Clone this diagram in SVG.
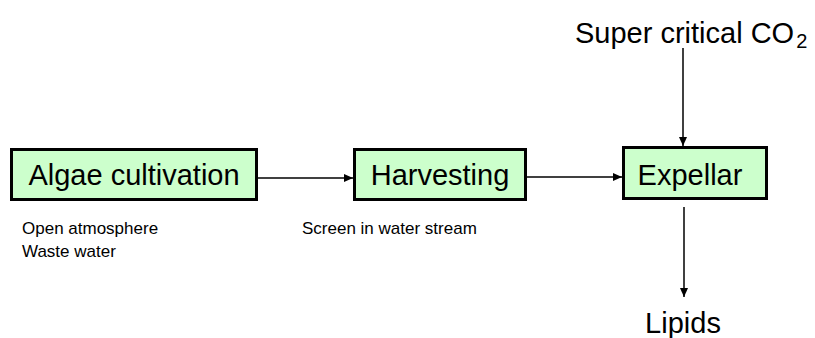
<svg xmlns="http://www.w3.org/2000/svg" width="815" height="338" viewBox="0 0 815 338">
<defs>
<marker id="ah" markerWidth="10" markerHeight="10" refX="9" refY="5" orient="auto" markerUnits="userSpaceOnUse">
<path d="M0,1 L9,5 L0,9 Z" fill="#000"/>
</marker>
<style>
.box{fill:#ccffcc;stroke:#000;stroke-width:3}
.big{font-family:"Liberation Sans",Arial,sans-serif;font-size:29px;fill:#000}
.small{font-family:"Liberation Sans",Arial,sans-serif;font-size:17px;fill:#000}
.conn{stroke:#000;stroke-width:1.5;fill:none;marker-end:url(#ah)}
</style>
</defs>
<rect width="815" height="338" fill="#fff"/>
<g id="algae">
<rect class="box" x="11.5" y="149.5" width="245" height="50"/>
<text class="big" x="134" y="185" text-anchor="middle">Algae cultivation</text>
</g>
<g id="harvesting">
<rect class="box" x="354.5" y="149.5" width="171" height="50"/>
<text class="big" x="440" y="185" text-anchor="middle">Harvesting</text>
</g>
<g id="expellar">
<rect class="box" x="623.5" y="147.5" width="143" height="51"/>
<text class="big" x="690" y="185" text-anchor="middle">Expellar</text>
</g>
<g id="co2">
<text class="big" x="575" y="43">Super critical CO<tspan font-size="20" dx="2" dy="5">2</tspan></text>
</g>
<g id="lipids">
<text class="big" x="683" y="333" text-anchor="middle">Lipids</text>
</g>
<g id="notes">
<text class="small" x="22" y="234">Open atmosphere</text>
<text class="small" x="22" y="257">Waste water</text>
<text class="small" x="302" y="234">Screen in water stream</text>
</g>
<g id="connectors">
<line class="conn" x1="258" y1="178" x2="353" y2="178"/>
<line class="conn" x1="527" y1="177" x2="622" y2="177"/>
<line class="conn" x1="683" y1="48" x2="683" y2="146"/>
<line class="conn" x1="684" y1="207" x2="684" y2="297"/>
</g>
</svg>
